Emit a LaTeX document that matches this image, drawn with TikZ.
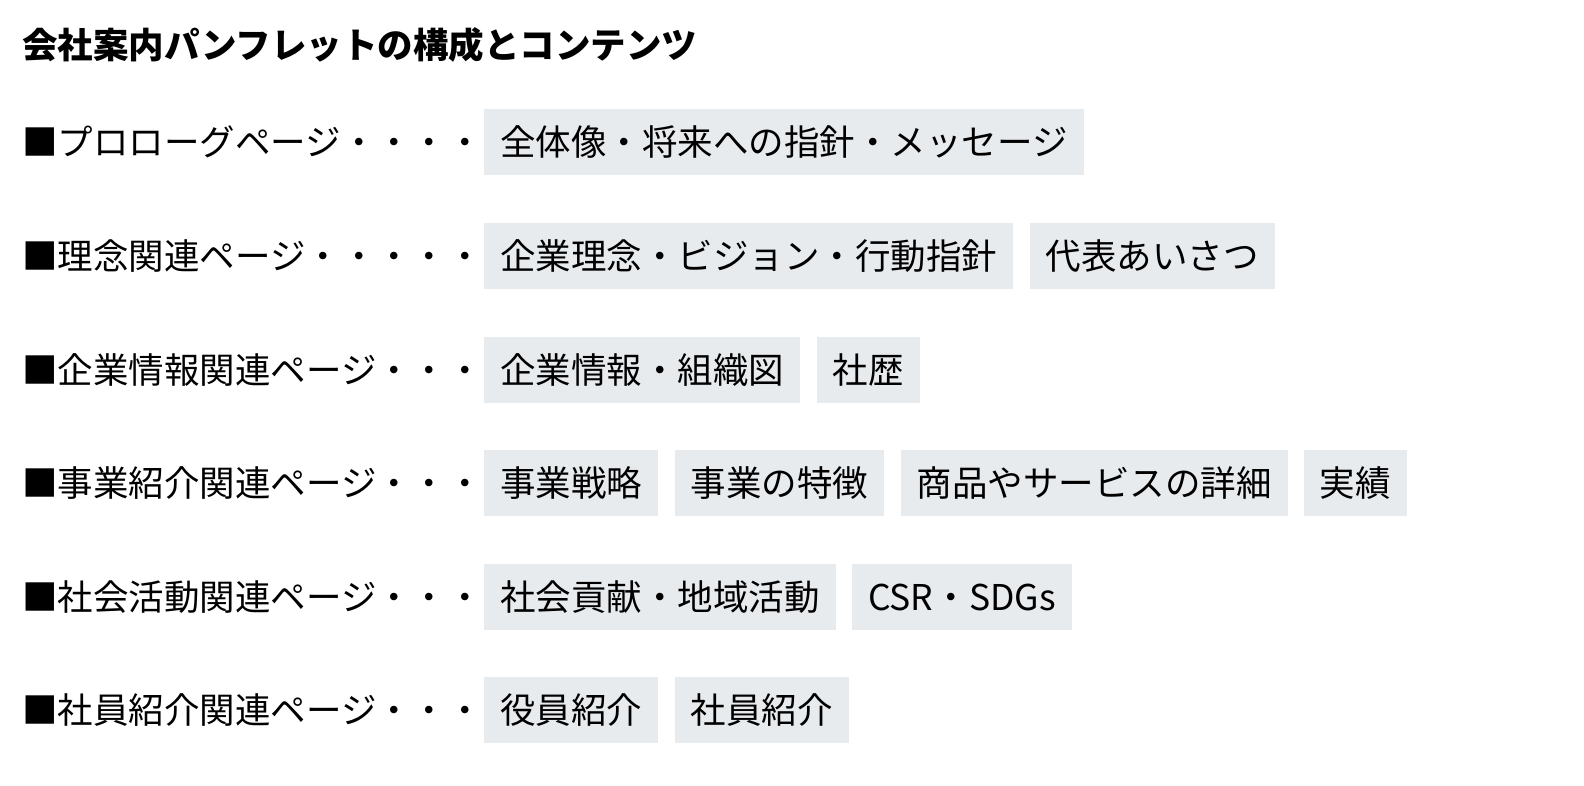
\documentclass[tikz,border=0pt]{standalone}
\usepackage{fontspec}
\setmainfont{Noto Sans CJK JP}
\definecolor{boxgray}{HTML}{E8EBEE}
\tikzset{
  lbl/.style={anchor=west,inner sep=0pt,font=\fontsize{35.5bp}{38bp}\selectfont},
  tag/.style={anchor=west,fill=boxgray,inner xsep=16bp,inner ysep=0pt,minimum height=66bp,font=\fontsize{35.5bp}{38bp}\selectfont}
}
\begin{document}
\begin{tikzpicture}[x=1bp,y=-1bp]
\useasboundingbox (0,0) rectangle (1584,786);
\node[lbl,font=\fontsize{35.5bp}{38bp}\selectfont\bfseries] (title) at (22,45) {会社案内パンフレットの構成とコンテンツ};
\node[lbl] (l1) at (22,142) {■プロローグページ・・・・};
\node[tag] (a1) at (484,142) {全体像・将来への指針・メッセージ};
\node[lbl] (l2) at (22,256) {■理念関連ページ・・・・・};
\node[tag] (b1) at (484,256) {企業理念・ビジョン・行動指針};
\node[tag] (b2) at ([xshift=16bp]b1.east) {代表あいさつ};
\node[lbl] (l3) at (22,370) {■企業情報関連ページ・・・};
\node[tag] (c1) at (484,370) {企業情報・組織図};
\node[tag] (c2) at ([xshift=16bp]c1.east) {社歴};
\node[lbl] (l4) at (22,483) {■事業紹介関連ページ・・・};
\node[tag] (d1) at (484,483) {事業戦略};
\node[tag] (d2) at ([xshift=16bp]d1.east) {事業の特徴};
\node[tag] (d3) at ([xshift=16bp]d2.east) {商品やサービスの詳細};
\node[tag] (d4) at ([xshift=16bp]d3.east) {実績};
\node[lbl] (l5) at (22,597) {■社会活動関連ページ・・・};
\node[tag] (e1) at (484,597) {社会貢献・地域活動};
\node[tag] (e2) at ([xshift=16bp]e1.east) {CSR・SDGs};
\node[lbl] (l6) at (22,710) {■社員紹介関連ページ・・・};
\node[tag] (f1) at (484,710) {役員紹介};
\node[tag] (f2) at ([xshift=16bp]f1.east) {社員紹介};
\end{tikzpicture}
\end{document}
